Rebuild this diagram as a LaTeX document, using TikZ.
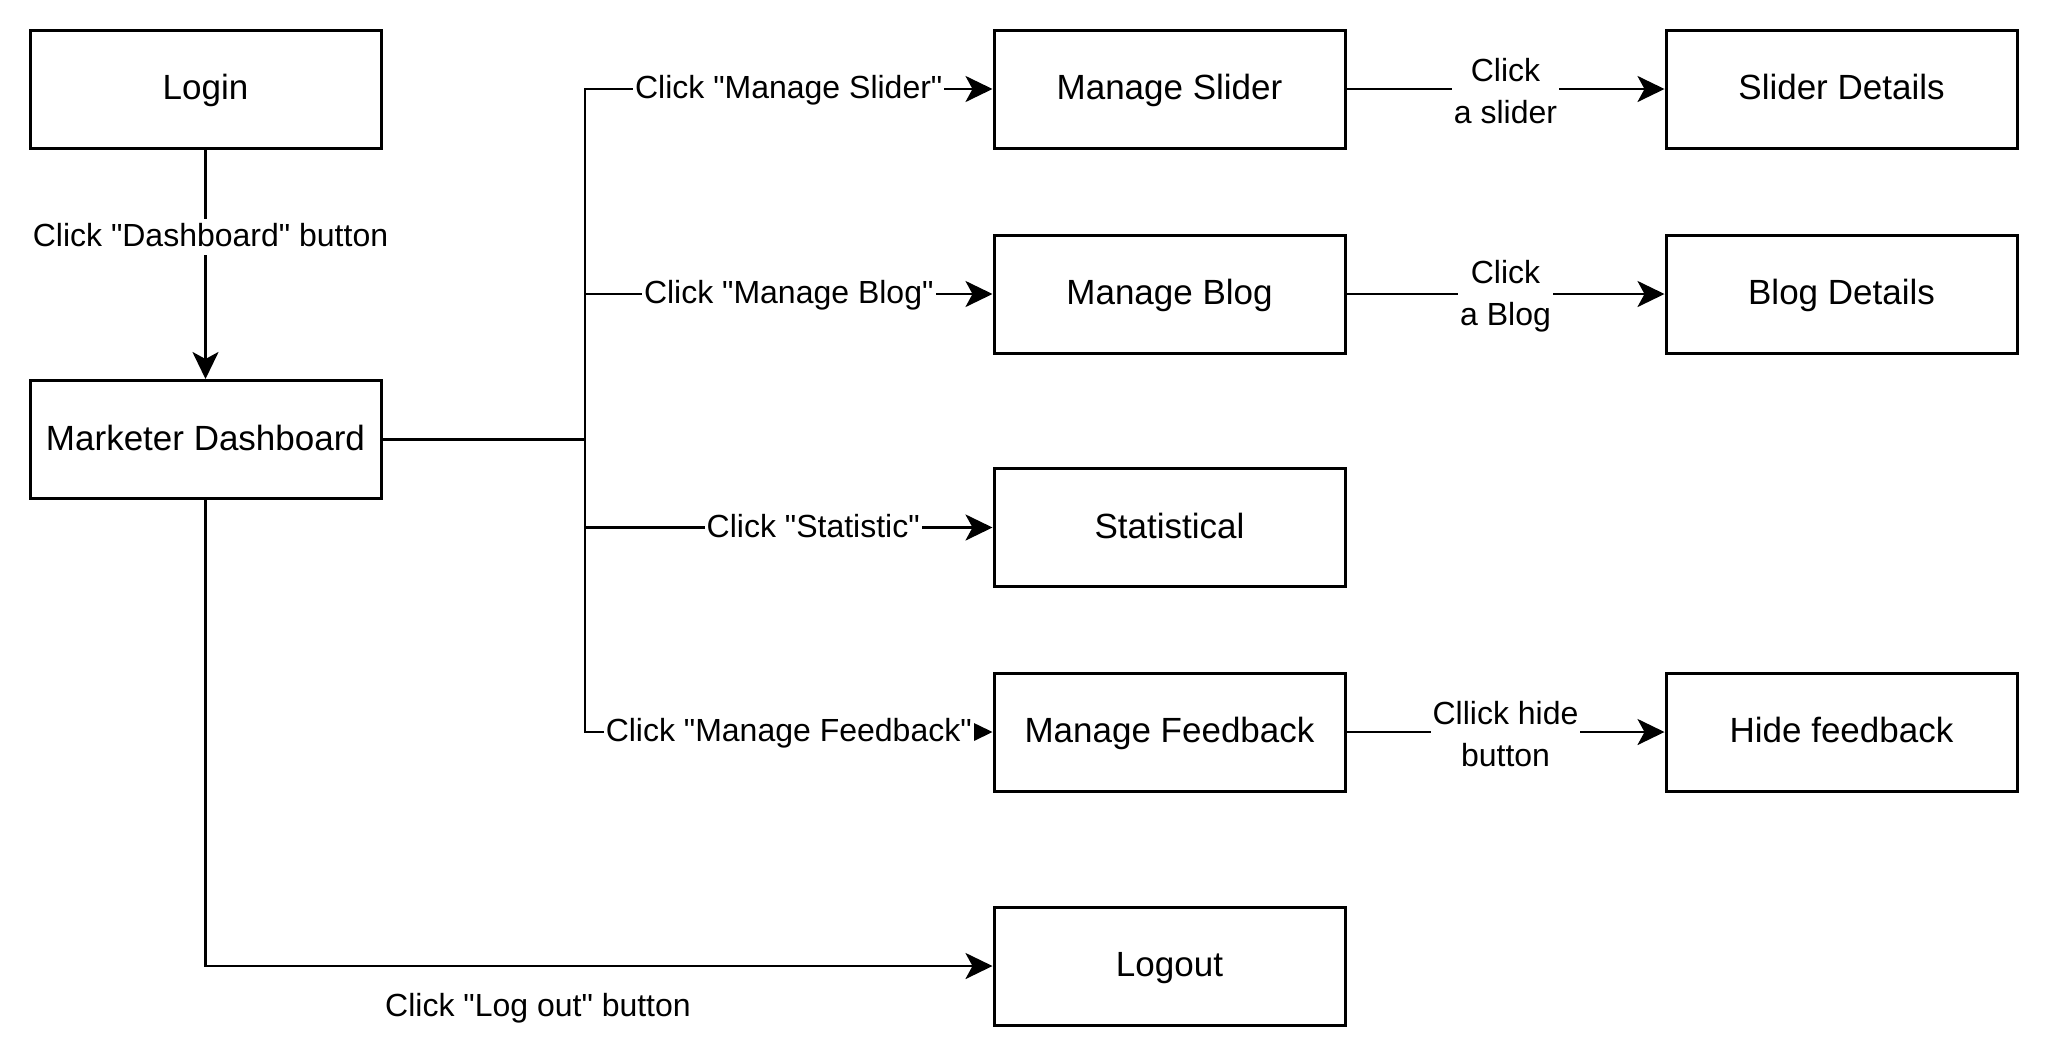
\documentclass[tikz,border=0pt]{standalone}
\usepackage{fontspec}
\setmainfont{Liberation Sans}[Ligatures=TeXOff]
\usetikzlibrary{arrows.meta}
\begin{document}
\begin{tikzpicture}[x=0.5pt,y=-0.5pt,
  box/.style={draw,line width=1.5pt,minimum width=175.5pt,minimum height=59pt,inner sep=0pt,text height=14pt,text depth=3.5pt,font=\fontsize{17.5}{20}\selectfont},
  conn/.style={line width=1.4pt},
  arr/.style={conn,-{Stealth[length=13.5pt,width=13pt,inset=3.5pt]}},
  lab/.style={fill=white,inner sep=1pt,text height=12.8pt,text depth=3.2pt,font=\fontsize{16}{21}\selectfont},
  lab2/.style={fill=white,inner sep=1pt,font=\fontsize{16}{21}\selectfont,align=center}]
\useasboundingbox (0,0) rectangle (2048,1055);
\node[box] (login) at (205.5,89) {Login};
\node[box] (dash) at (205.5,439.5) {Marketer Dashboard};
\node[box] (ms) at (1169.5,89) {Manage Slider};
\node[box] (sd) at (1841.5,89) {Slider Details};
\node[box] (mb) at (1169.5,294) {Manage Blog};
\node[box] (bd) at (1841.5,294) {Blog Details};
\node[box] (st) at (1169.5,527.5) {Statistical};
\node[box] (mf) at (1169.5,732) {Manage Feedback};
\node[box] (hf) at (1841.5,732) {Hide feedback};
\node[box] (lo) at (1169.5,966) {Logout};
\coordinate (br) at (585,439.5);
\draw[arr] (login) -- node[lab,pos=0.38,xshift=2.5pt]{Click "Dashboard" button} (dash);
\draw[conn] (dash.east) -- (br);
\draw[arr] (br) |- node[lab,pos=0.75]{Click "Manage Slider"} (ms.west);
\draw[arr] (br) |- node[lab,pos=0.75]{Click "Manage Blog"} (mb.west);
\draw[arr] (br) |- node[lab,pos=0.78]{Click "Statistic"} (st.west);
\draw[arr] (br) |- node[lab,pos=0.75]{Click "Manage Feedback"} (mf.west);
\draw[arr] (ms) -- node[lab2,yshift=-1pt]{Click\\a slider} (sd);
\draw[arr] (mb) -- node[lab2,yshift=-1pt]{Click\\a Blog} (bd);
\draw[arr] (mf) -- node[lab2,yshift=-1pt]{Cllick hide\\button} (hf);
\draw[arr] (dash.south) |- (lo.west);
\node[lab] (lolab) at (538,1007) {Click "Log out" button};
\end{tikzpicture}
\end{document}
